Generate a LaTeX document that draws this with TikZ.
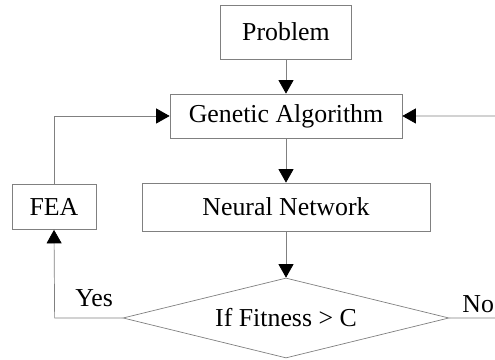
\documentclass[tikz,border=0pt]{standalone}
\usepackage{fontspec}
\setmainfont{Liberation Serif}
\usetikzlibrary{arrows.meta,positioning,shapes.geometric}

\begin{document}
\begin{tikzpicture}[node distance=2cm,on grid,auto,
    font=\fontsize{14.7pt}{17pt}\selectfont,
    box/.style={draw=black!50,thin,rectangle,inner sep=0pt},
    test/.style={draw=black!50,thin,diamond,aspect=4.07,inner sep=0pt,
                 minimum width=6.52cm,minimum height=1.6cm},
    wire/.style={draw=black!50,thin},
    flow/.style={wire,-{Triangle[length=0.27cm,width=0.3cm,color=black]}}]
            \useasboundingbox (0,0) rectangle (9.9,7.2);
            \node[box, minimum width=2.62cm, minimum height=1.08cm] (prob) at (5.72,6.56) {Problem};
            \node[box, minimum width=4.64cm, minimum height=0.88cm] (ga) [below=1.68cm of prob] {Genetic Algorithm};
            \node[box, minimum width=5.76cm, minimum height=0.96cm] (nn) [below=1.82cm of ga] {Neural Network};
            \node[box, minimum width=1.68cm, minimum height=0.9cm] (fea) [left=4.64cm of nn] {FEA};
            \node[test] (fit) [below=2.22cm of nn] {If Fitness > C};
            \coordinate (nolo) at (9.9,0.84);
            \coordinate (nohi) at (9.9,4.88);
            \path
                (prob)
                    edge[flow] (ga)
                (ga)
                    edge[flow] (nn)
                (nn)
                    edge[flow] (fit)
                (nohi)
                    edge[flow] (ga);
            \draw[flow] (fit.west) -- node[pos=0.42,above,inner sep=6pt] {Yes} ++(-1.36,0) -- (fea.south);
            \draw[flow] (fea.north) |- (ga.west);
            \draw[wire] (fit.east) -- node[above,inner sep=3pt,xshift=0.12cm] {No} (nolo);
        \end{tikzpicture}
\end{document}
